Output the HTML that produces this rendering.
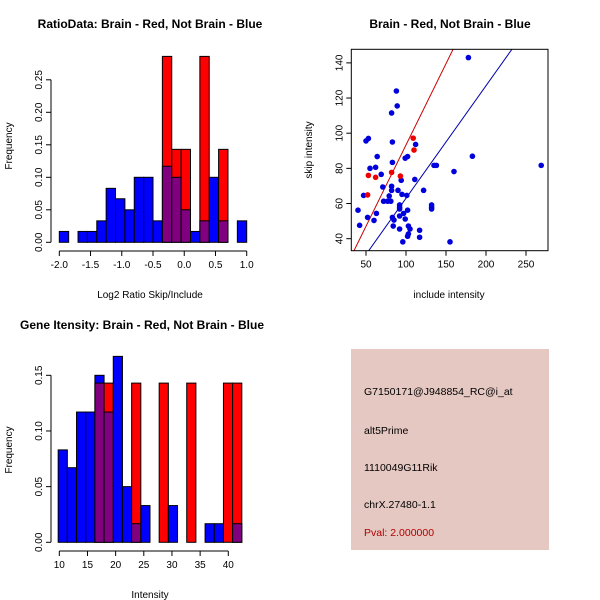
<!DOCTYPE html>
<html><head><meta charset="utf-8"><style>
html,body{margin:0;padding:0;background:#fff}
svg{display:block;font-family:"Liberation Sans",Arial,sans-serif}
</style></head><body>
<svg id="c" width="600" height="600" viewBox="0 0 600 600">
<rect width="600" height="600" fill="#fff"/>
<text x="150" y="28" text-anchor="middle" font-size="12" font-weight="bold">RatioData: Brain - Red, Not Brain - Blue</text>
<text x="450" y="28" text-anchor="middle" font-size="12" font-weight="bold">Brain - Red, Not Brain - Blue</text>
<text x="142" y="329" text-anchor="middle" font-size="12" font-weight="bold">Gene Itensity: Brain - Red, Not Brain - Blue</text>
<text x="150" y="298" text-anchor="middle" font-size="10">Log2 Ratio Skip/Include</text>
<text transform="translate(12,146) rotate(-90)" text-anchor="middle" font-size="10">Frequency</text>
<text x="449" y="298" text-anchor="middle" font-size="10">include intensity</text>
<text transform="translate(312,150) rotate(-90)" text-anchor="middle" font-size="10">skip intensity</text>
<text x="150" y="598" text-anchor="middle" font-size="10">Intensity</text>
<text transform="translate(12,450) rotate(-90)" text-anchor="middle" font-size="10">Frequency</text>
<g id="h1"></g>
<g id="h2"></g>
<g id="sc"></g>
<g>
<rect x="351" y="349" width="198" height="201" fill="#e6c8c2"/>
<text x="364" y="395" font-size="10.5">G7150171@J948854_RC@i_at</text>
<text x="364" y="434" font-size="10.5">alt5Prime</text>
<text x="364" y="471" font-size="10.5">1110049G11Rik</text>
<text x="364" y="508" font-size="10.5">chrX.27480-1.1</text>
<text x="364" y="536" font-size="10.5" fill="#b00000">Pval: 2.000000</text>
</g>
</svg>
<script>
// Histogram 1 data (bins start -2.0, width 0.15)
const h1Start = -2.0, h1Width = 0.15;
const h1Blue = [0.0167,0,0.0167,0.0167,0.033,0.083,0.067,0.05,0.1,0.1,0.033,0.117,0.1,0.05,0.0167,0.033,0.1,0.033,0,0.033];
const h1Red  = [0,0,0,0,0,0,0,0,0,0,0,0.286,0.143,0.143,0,0.286,0,0.143,0,0];
const h1XTicks = [-2.0,-1.5,-1.0,-0.5,0.0,0.5,1.0];
const h1YTicks = [0,0.05,0.10,0.15,0.20,0.25];
// Histogram 2 data (bins start 9.8, width 1.63)
const h2Start = 9.8, h2Width = 1.63;
const h2Blue = [0.083,0.067,0.117,0.117,0.15,0.117,0.167,0.05,0.0167,0.033,0,0,0.033,0,0,0,0.0167,0.0167,0,0.0167];
const h2Red  = [0,0,0,0,0.143,0.143,0,0,0.143,0,0,0.143,0,0,0.143,0,0,0,0.143,0.143];
const h2XTicks = [10,15,20,25,30,35,40];
const h2YTicks = [0,0.05,0.10,0.15];
// Scatter data
const blueX = [178,88,89,82,53,50,83,112,102,99,64,83,183,62,55,135,138,269,160,69,94,111,71,82,82,90,122,47,95,101,79,72,77,81,92,92,92,132,132,132,40,63,97,92,102,99,83,85,84,52,60,42,103,105,103,102,92,117,117,96,155];
const blueY = [143,124,115.5,111.5,97,95.6,95,93.6,86.7,85.8,86.7,83.4,86.9,80.6,80,81.7,81.7,81.7,78.2,76.6,73.2,73.7,69.4,69.8,67.5,67.5,67.5,64.6,65.2,64.6,64.3,61.3,61.3,61.3,59.2,57.9,56.9,59.2,57.9,56.9,56.2,54.4,54.4,52.9,56.2,51.2,52.1,50.6,47.2,52.1,50.4,47.6,47.2,45.5,42.7,41.4,45.5,44.8,40.8,38.2,38.2];
const redX = [109,110,53,62,82,93,52];
const redY = [97.2,90.4,76,74.9,77.7,75.6,64.9];
const redSlope = 0.925, redIntercept = 0.8;
const blueSlope = 0.64, blueIntercept = -1;
const scXTicks = [50,100,150,200,250];
const scYTicks = [40,60,80,100,120,140];

const NS="http://www.w3.org/2000/svg";
function mk(parent,tag,attrs,text){const e=document.createElementNS(NS,tag);for(const k in attrs)e.setAttribute(k,attrs[k]);if(text!==undefined)e.textContent=text;parent.appendChild(e);return e;}

function hist(g,start,width,blue,red,xt,yt,sx,sy,yLabelFmt,axisY,axisX,xTickFmt){
  for(let i=0;i<blue.length;i++){
    const x0=sx(start+i*width), x1=sx(start+(i+1)*width);
    const b=blue[i], r=red[i], lo=Math.min(b,r), hi=Math.max(b,r);
    if(hi<=0)continue;
    const col = r>b ? "#ff0000" : "#0000ff";
    const bar=mk(g,"rect",{x:x0,y:sy(hi),width:x1-x0,height:sy(0)-sy(hi),fill:col,stroke:"#000","stroke-width":1});
    
    
    if(lo>0){
      const ov=mk(g,"rect",{x:x0,y:sy(lo),width:x1-x0,height:sy(0)-sy(lo),fill:"#800080",stroke:"#000","stroke-width":1});
      
      
    }
  }
  mk(g,"line",{x1:sx(xt[0]),x2:sx(xt[xt.length-1]),y1:axisY,y2:axisY,stroke:"#000"});
  xt.forEach(t=>{mk(g,"line",{x1:sx(t),x2:sx(t),y1:axisY,y2:axisY+5,stroke:"#000"});
    const tl=mk(g,"text",{x:sx(t),y:axisY+17,"text-anchor":"middle","font-size":10},xTickFmt(t));
    
    });
  mk(g,"line",{x1:axisX,x2:axisX,y1:sy(yt[0]),y2:sy(yt[yt.length-1]),stroke:"#000"});
  yt.forEach(t=>{mk(g,"line",{x1:axisX,x2:axisX-5,y1:sy(t),y2:sy(t),stroke:"#000"});
    const tl=mk(g,"text",{transform:`translate(${axisX-9},${sy(t)}) rotate(-90)`,"text-anchor":"middle","font-size":10},yLabelFmt(t));
    
    });
}
const s1x=v=>59.3+(v+2)*62.47, s1y=v=>242.3-v*650;
hist(document.getElementById('h1'),h1Start,h1Width,h1Blue,h1Red,h1XTicks,h1YTicks,s1x,s1y,t=>t.toFixed(2),251,51,t=>t.toFixed(1));
const s2x=v=>59.3+(v-10)*5.633, s2y=v=>542.3-v*1113.3;
hist(document.getElementById('h2'),h2Start,h2Width,h2Blue,h2Red,h2XTicks,h2YTicks,s2x,s2y,t=>t.toFixed(2),551,51,t=>String(t));
const sc=document.getElementById('sc');
const ssx=v=>326+v*0.8, ssy=v=>309-v*1.758;
const L=351.3,R=548,T=49.3,B=250.7;
mk(sc,"defs",{}).innerHTML='<clipPath id="clp"><rect x="351.3" y="49.3" width="196.7" height="201.4"/></clipPath>';
const lines=mk(sc,"g",{"clip-path":"url(#clp)"});
[[redSlope,redIntercept,"#cc0000","red-fit-line"],[blueSlope,blueIntercept,"#0000aa","blue-fit-line"]].forEach(([m,c,col,nm])=>{
  const xa=0,xb=400;
  const ln=mk(lines,"line",{x1:ssx(xa),y1:ssy(m*xa+c),x2:ssx(xb),y2:ssy(m*xb+c),stroke:col,"stroke-width":1});
  
  
});
blueX.forEach((x,i)=>{const p=mk(sc,"circle",{cx:ssx(x),cy:ssy(blueY[i]),r:2.8,fill:"#0000dd"});
  
  });
redX.forEach((x,i)=>{const p=mk(sc,"circle",{cx:ssx(x),cy:ssy(redY[i]),r:2.8,fill:"#ee0000"});
  
  });
mk(sc,"rect",{x:L,y:T,width:R-L,height:B-T,fill:"none",stroke:"#000"});
scXTicks.forEach(t=>{mk(sc,"line",{x1:ssx(t),x2:ssx(t),y1:B,y2:B+5,stroke:"#000"});
  const tl=mk(sc,"text",{x:ssx(t),y:B+17,"text-anchor":"middle","font-size":10},String(t));
  
  });
scYTicks.forEach(t=>{mk(sc,"line",{x1:L,x2:L-5,y1:ssy(t),y2:ssy(t),stroke:"#000"});
  const tl=mk(sc,"text",{transform:`translate(${L-9},${ssy(t)}) rotate(-90)`,"text-anchor":"middle","font-size":10},String(t));
  
  });
</script>
</body></html>
